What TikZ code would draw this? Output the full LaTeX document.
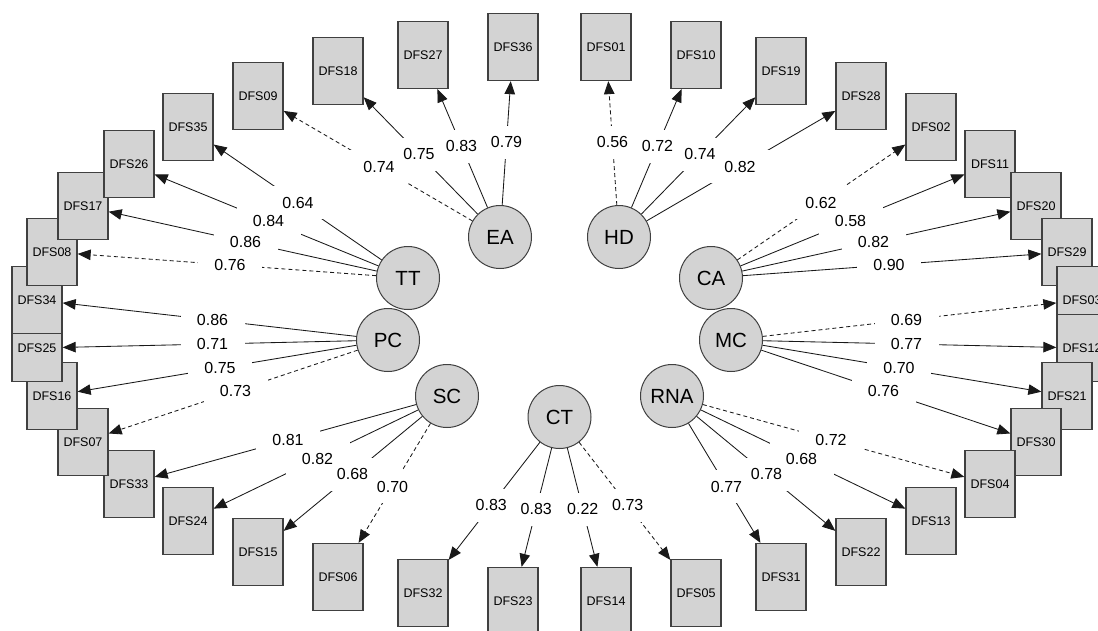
\documentclass[tikz,border=0pt]{standalone}
\usepackage{fontspec}
\setmainfont{Liberation Sans}
\usetikzlibrary{arrows.meta,calc}
\definecolor{boxgray}{HTML}{D3D3D3}
\tikzset{
  obs/.style={draw=black!75, line width=1.3pt, fill=boxgray, minimum width=50pt,
    minimum height=67pt, inner sep=0pt, font=\fontsize{12.5}{14}\selectfont},
  lat/.style={circle, draw=black!75, line width=1pt, fill=boxgray, minimum size=63pt,
    inner sep=0pt, font=\fontsize{20.5}{24}\selectfont},
  load/.style={draw=black!90, line width=0.85pt, -{Triangle[length=13pt,width=10.5pt]}},
  fixed/.style={load, dash pattern=on 4pt off 3pt},
  lblbg/.style={fill=white, minimum width=64pt, minimum height=33pt, inner sep=0pt},
  lbl/.style={font=\fontsize{16}{18}\selectfont, inner sep=0pt},
}
\begin{document}
\begin{tikzpicture}[x=1pt,y=-1pt]
\useasboundingbox (0,0) rectangle (1098,630);
\clip (0,0) rectangle (1098,630);
% observed indicators, left side (drawn bottom to top)
\foreach \n/\px/\py in {DFS23/513/601, DFS32/423/593, DFS06/338/577, DFS15/258/552,
  DFS24/188/521, DFS33/129/484, DFS07/83/442, DFS16/52/396, DFS25/37/348,
  DFS34/37/300, DFS08/52/252, DFS17/83/206, DFS26/129/164, DFS35/188/127,
  DFS09/258/96, DFS18/338/71, DFS27/423/55, DFS36/513/47}
  {\node[obs] (\n) at (\px,\py) {\n};}
% observed indicators, right side (drawn top to bottom)
\foreach \n/\px/\py in {DFS01/606/47, DFS10/696/55, DFS19/781/71, DFS28/861/96,
  DFS02/931/127, DFS11/990/164, DFS20/1036/206, DFS29/1067/252, DFS03/1082/300,
  DFS12/1082/348, DFS21/1067/396, DFS30/1036/442, DFS04/990/484, DFS13/931/521,
  DFS22/861/552, DFS31/781/577, DFS05/696/593, DFS14/606/601}
  {\node[obs] (\n) at (\px,\py) {\n};}
% latent factors
\node[lat] (EA) at (500,237) {EA};
\node[lat] (HD) at (619,237) {HD};
\node[lat] (TT) at (408,278) {TT};
\node[lat] (CA) at (711,278) {CA};
\node[lat] (PC) at (388,340) {PC};
\node[lat] (MC) at (731,340) {MC};
\node[lat] (SC) at (447,396) {SC};
\node[lat] (RNA) at (672,396) {RNA};
\node[lat] (CT) at (559.5,417) {CT};
\def\edgelist{EA/DFS09/0.74/fixed, EA/DFS18/0.75/load, EA/DFS27/0.83/load, EA/DFS36/0.79/load,
  HD/DFS01/0.56/fixed, HD/DFS10/0.72/load, HD/DFS19/0.74/load, HD/DFS28/0.82/load,
  CA/DFS02/0.62/fixed, CA/DFS11/0.58/load, CA/DFS20/0.82/load, CA/DFS29/0.90/load,
  MC/DFS03/0.69/fixed, MC/DFS12/0.77/load, MC/DFS21/0.70/load, MC/DFS30/0.76/load,
  RNA/DFS04/0.72/fixed, RNA/DFS13/0.68/load, RNA/DFS22/0.78/load, RNA/DFS31/0.77/load,
  CT/DFS05/0.73/fixed, CT/DFS14/0.22/load, CT/DFS23/0.83/load, CT/DFS32/0.83/load,
  SC/DFS06/0.70/fixed, SC/DFS15/0.68/load, SC/DFS24/0.82/load, SC/DFS33/0.81/load,
  PC/DFS07/0.73/fixed, PC/DFS16/0.75/load, PC/DFS25/0.71/load, PC/DFS34/0.86/load,
  TT/DFS08/0.76/fixed, TT/DFS17/0.86/load, TT/DFS26/0.84/load, TT/DFS35/0.64/load}
% connectors
\foreach \f/\o/\v/\s in \edgelist {\draw[\s] (\f) -- (\o);}
% label backgrounds
\foreach \f/\o/\v/\s in \edgelist {\node[lblbg] (bg-\f-\o) at ($(\f)!0.5!(\o)$) {};}
% label texts
\foreach \f/\o/\v/\s in \edgelist {\node[lbl] (lb-\f-\o) at ($(\f)!0.5!(\o)$) {\v};}
\end{tikzpicture}
\end{document}
